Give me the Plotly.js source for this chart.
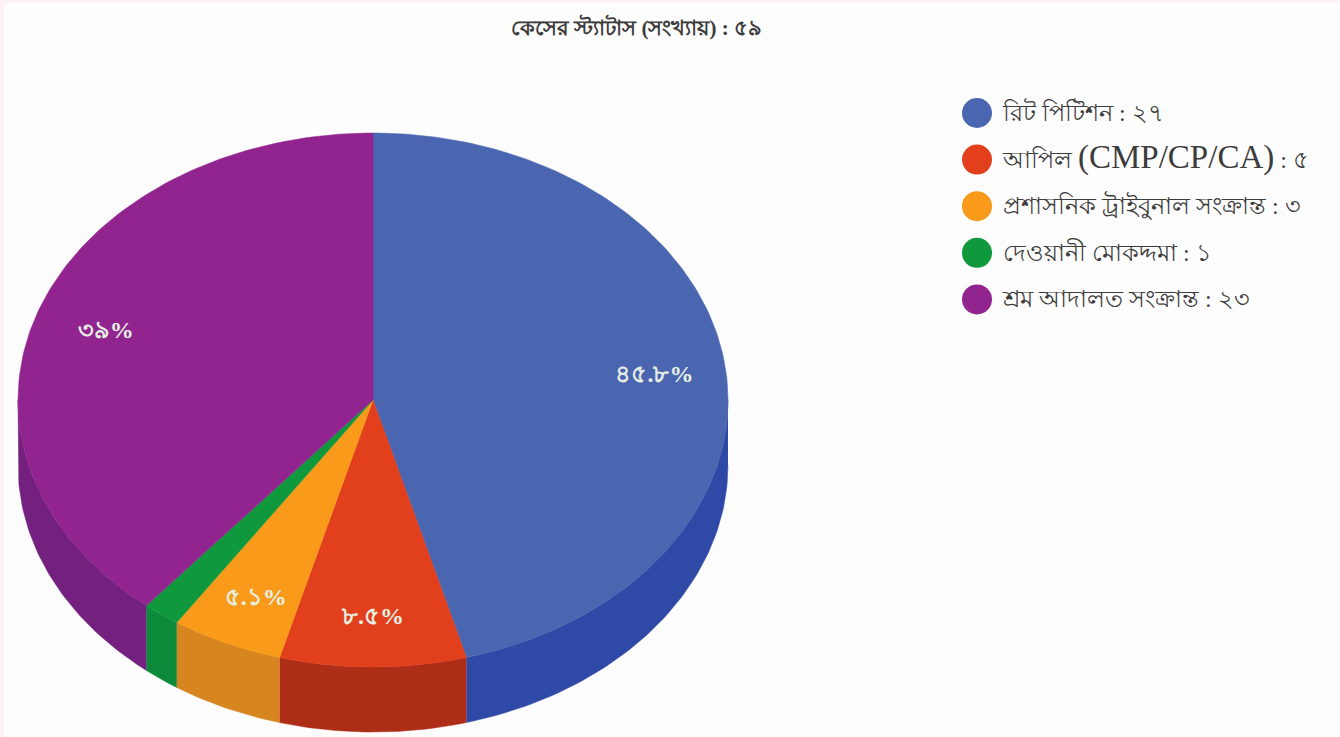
<!DOCTYPE html>
<html>
<head>
<meta charset="utf-8">
<script src="https://cdn.plot.ly/plotly-3.0.1.min.js"></script>
<style>html,body{margin:0;padding:0;background:#fdf3f7}</style>
</head>
<body>
<div id="chart" style="width:1340px;height:737px"></div>
<script>
// Case counts by category
const categories = ['রিট পিটিশন : ২৭', 'আপিল (CMP/CP/CA) : ৫', 'প্রশাসনিক ট্রাইবুনাল সংক্রান্ত : ৩', 'দেওয়ানী মোকদ্দমা : ১', 'শ্রম আদালত সংক্রান্ত : ২৩'];
const counts = [27, 5, 3, 1, 23];
const percentLabels = ['৪৫.৮%', '৮.৫%', '৫.১%', '', '৩৯%'];
const topColors = ['#4a66b1', '#e23f1d', '#f99a1a', '#10983c', '#922490'];
const sideColors = ['#2f4aa6', '#ae2d17', '#d6851f', '#0b8a3a', '#74207f'];
const titleText = 'কেসের স্ট্যাটাস (সংখ্যায়) : ৫৯';

// Pie geometry, in the pixel-sized units of the hidden axes
const cx = 373, cy = 400, rx = 355, ry = 267, depth = 65;
const total = counts.reduce((a, b) => a + b, 0);
const point = (t, r = 1, dy = 0) => [
  cx + rx * r * Math.sin(2 * Math.PI * t),
  cy - ry * r * Math.cos(2 * Math.PI * t) + dy
];
const arc = (t0, t1, dy = 0) => {
  const n = Math.max(2, Math.ceil((t1 - t0) * 360));
  const out = [];
  for (let i = 0; i <= n; i++) out.push(point(t0 + (t1 - t0) * i / n, 1, dy));
  return out;
};
const polygon = (pts, color) => ({
  type: 'scatter', mode: 'lines', x: pts.map(p => p[0]), y: pts.map(p => p[1]),
  fill: 'toself', fillcolor: color, line: {color: color, width: 0.5},
  hoverinfo: 'skip', showlegend: false
});

const walls = [], tops = [], labelX = [], labelY = [];
let cum = 0;
counts.forEach((v, i) => {
  const t0 = cum / total, t1 = (cum + v) / total;
  cum += v;
  // Only the part of the rim facing the viewer gets a wall
  const a = Math.max(t0, 0.25), b = Math.min(t1, 0.75);
  if (b > a) walls.push(polygon(arc(a, b).concat(arc(a, b, depth).reverse()), sideColors[i]));
  tops.push(polygon([[cx, cy]].concat(arc(t0, t1), [[cx, cy]]), topColors[i]));
  const c = point((t0 + t1) / 2, 0.8, 4);
  labelX.push(c[0]); labelY.push(c[1]);
});

const sliceLabels = {
  type: 'scatter', mode: 'text', x: labelX, y: labelY, text: percentLabels,
  textposition: 'middle center', hoverinfo: 'skip', showlegend: false,
  textfont: {size: 24, weight: 700, color: '#e6efe2', family: '"Liberation Serif", "Noto Sans", serif'}
};

// Legend column: the Latin case codes are set larger than the Bengali text
const legendY = categories.map((_, i) => 113 + i * 46.6);
const legendLabels = categories.map(s =>
  s.replace(/\(CMP\/CP\/CA\)/, m => `<span style="font-size:33px">${m}</span>`));
const legendMarks = {
  type: 'scatter', mode: 'markers', x: categories.map(() => 977), y: legendY,
  marker: {size: 30, color: topColors}, hoverinfo: 'skip', showlegend: false
};
const legendText = {
  type: 'scatter', mode: 'text', x: categories.map(() => 1003), y: legendY.map(y => y + 2), text: legendLabels,
  textposition: 'middle right', hoverinfo: 'skip', showlegend: false,
  textfont: {size: 24, color: '#3c3c3c', family: '"Liberation Serif", "Noto Sans", serif'}
};

Plotly.newPlot('chart', [...walls, ...tops, sliceLabels, legendMarks, legendText], {
  width: 1340, height: 737,
  margin: {l: 4, r: 0, t: 3, b: 0},
  paper_bgcolor: '#fdf3f7', plot_bgcolor: '#fefdfd',
  title: {text: titleText, x: 0.475, xanchor: 'center', y: 0.963, yanchor: 'middle',
          font: {size: 21, weight: 700, color: '#3c3c3c', family: '"Liberation Serif", "Noto Sans", serif'}},
  xaxis: {range: [4, 1340], visible: false, fixedrange: true},
  yaxis: {range: [737, 3], visible: false, fixedrange: true}
}, {displayModeBar: false, staticPlot: true});
</script>
</body>
</html>
